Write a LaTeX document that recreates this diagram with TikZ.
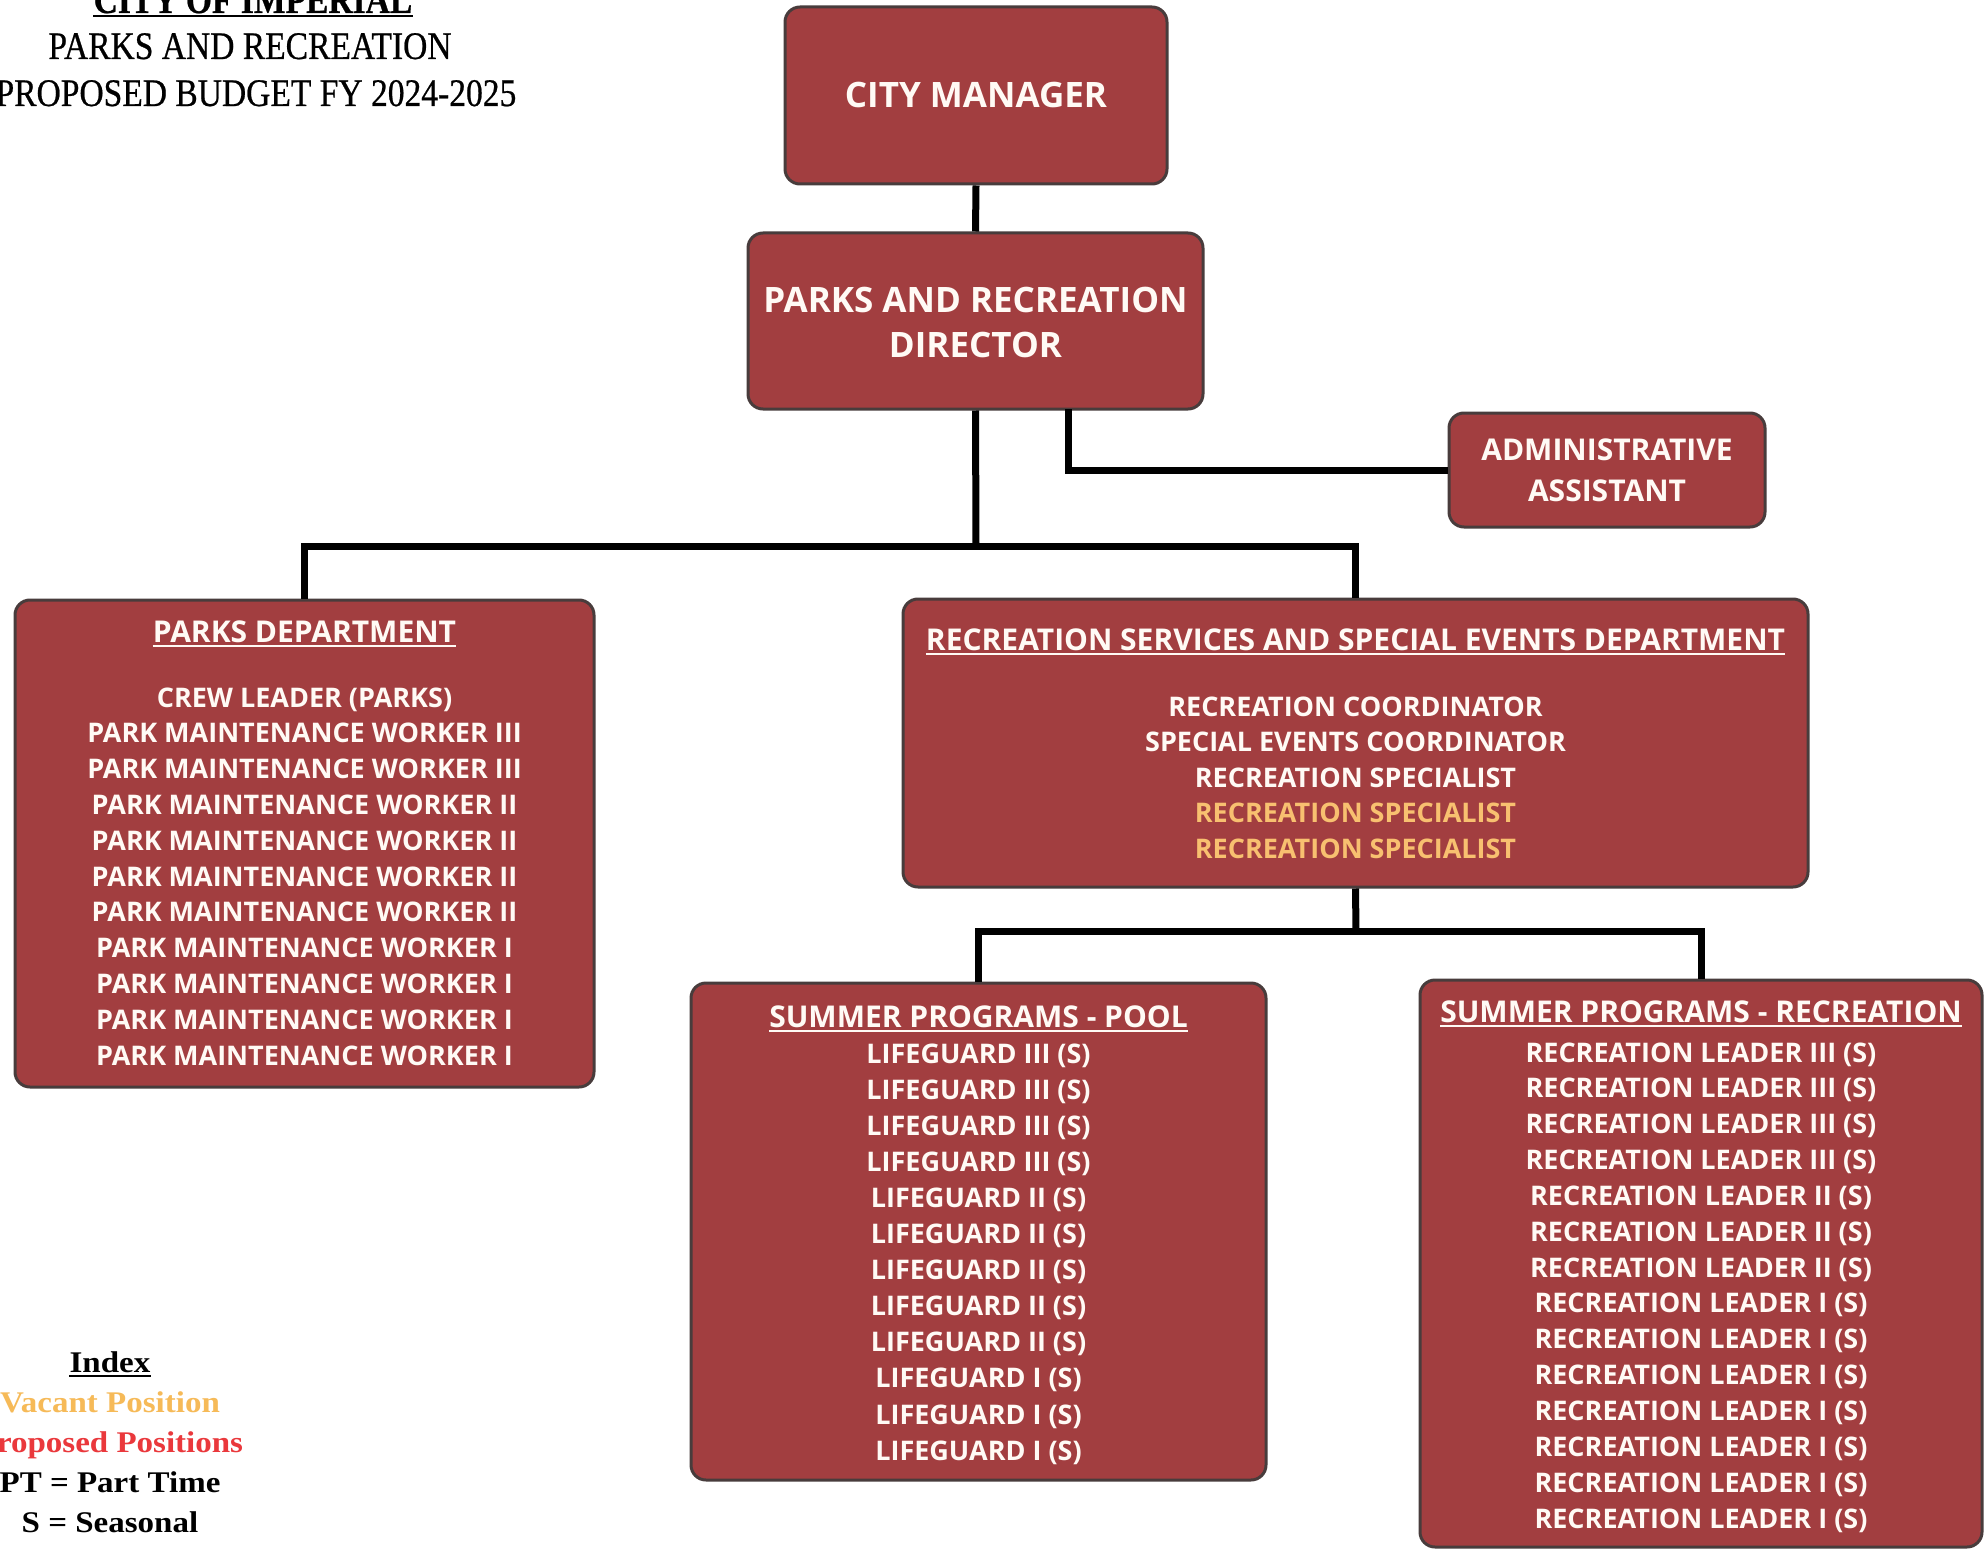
\documentclass[tikz,border=0pt]{standalone}
\usepackage{fontspec}
\setmainfont{Liberation Serif}
\newfontfamily\boxfont{Open Sans}
\newfontfamily\titlefont[FakeStretch=0.86,FakeBold=0.6]{Liberation Serif}
\newfontfamily\legendfont[FakeStretch=1.1]{Liberation Serif}

\definecolor{boxred}{RGB}{162,62,64}
\definecolor{boxline}{RGB}{72,60,60}
\definecolor{boxtext}{RGB}{255,250,245}
\definecolor{vacantbox}{RGB}{248,192,112}
\definecolor{vacantlgd}{RGB}{246,186,88}
\definecolor{proposed}{RGB}{234,56,60}

\begin{document}
\begin{tikzpicture}[x=1pt,y=-1pt,
  box/.style={draw=boxline, line width=3pt, fill=boxred, rounded corners=15pt, inner sep=0pt},
  conn/.style={line width=7pt, draw=black, line join=miter},
  txt/.style={text=boxtext, inner sep=0pt, anchor=base, font=\boxfont\bfseries\fontsize{27}{27}\selectfont},
  hdr/.style={txt, font=\boxfont\bfseries\fontsize{30}{30}\selectfont},
  big/.style={txt, font=\boxfont\bfseries\fontsize{35}{35}\selectfont},
  mid/.style={txt, font=\boxfont\bfseries\fontsize{30}{30}\selectfont},
  ttl/.style={inner sep=0pt, anchor=base, font=\titlefont\fontsize{39}{39}\selectfont},
  lgd/.style={inner sep=0pt, anchor=base, font=\legendfont\bfseries\fontsize{30}{30}\selectfont},
  uline/.style={line width=2pt}
]
\fill[white] (0,0) rectangle (1984,1549);
\useasboundingbox (0,0) rectangle (1984,1549);

% ---------- title ----------
\node[ttl, font=\titlefont\bfseries\fontsize{39}{39}\selectfont] (t1) at (253,13) {CITY OF IMPERIAL};
\draw[line width=2.5pt] ([yshift=-3pt]t1.base west) -- ([yshift=-3pt]t1.base east);
\node[ttl] (t2) at (250,59) {PARKS AND RECREATION};
\node[ttl] (t3) at (256,106) {PROPOSED BUDGET FY 2024-2025};

% ---------- boxes ----------
\node[box, minimum width=382pt, minimum height=177pt] (cm)   at (976,95.5) {};
\node[box, minimum width=455pt, minimum height=176pt] (dir)  at (975.5,321) {};
\node[box, minimum width=316pt, minimum height=114pt] (adm)  at (1607,470) {};
\node[box, minimum width=579pt, minimum height=487pt] (pk)   at (304.5,843.5) {};
\node[box, minimum width=905pt, minimum height=288pt] (rec)  at (1355.5,743) {};
\node[box, minimum width=575pt, minimum height=497pt] (pool) at (978.5,1231.5) {};
\node[box, minimum width=562pt, minimum height=567pt] (srec) at (1701,1263.5) {};

% ---------- connectors ----------
\coordinate (hub1) at (976,546);
\coordinate (dA) at (1068,409);
\coordinate (hub2) at (1356,931);
\draw[conn] (cm.south) -- (dir.north);
\draw[conn] (dir.south) -- (hub1);
\draw[conn] (pk.north) |- (hub1) -| (rec.north);
\draw[conn] (dA) |- (adm.west);
\draw[conn] (rec.south) -- (hub2);
\draw[conn] (pool.north) |- (hub2) -| (srec.north);

% ---------- box texts ----------
\node[big] (cmt) at (976,108) {CITY MANAGER};
\node[big] (dir1) at (975.5,312) {PARKS AND RECREATION};
\node[big] (dir2) at (975.5,357) {DIRECTOR};
\node[mid] (adm1) at (1607,460) {ADMINISTRATIVE};
\node[mid] (adm2) at (1607,501) {ASSISTANT};

% parks department
\node[hdr] (pkh) at (304.5,642) {PARKS DEPARTMENT};
\draw[boxtext, uline] ([yshift=-4pt]pkh.base west) -- ([yshift=-4pt]pkh.base east);
\foreach \t [count=\i from 0] in {{CREW LEADER (PARKS)},{PARK MAINTENANCE WORKER III},{PARK MAINTENANCE WORKER III},
  {PARK MAINTENANCE WORKER II},{PARK MAINTENANCE WORKER II},{PARK MAINTENANCE WORKER II},{PARK MAINTENANCE WORKER II},
  {PARK MAINTENANCE WORKER I},{PARK MAINTENANCE WORKER I},{PARK MAINTENANCE WORKER I},{PARK MAINTENANCE WORKER I}}
  \node[txt] (pk\i) at (304.5,{707+35.8*\i}) {\t};

% recreation services
\node[hdr] (rech) at (1355.5,650) {RECREATION SERVICES AND SPECIAL EVENTS DEPARTMENT};
\draw[boxtext, uline] ([yshift=-4pt]rech.base west) -- ([yshift=-4pt]rech.base east);
\node[txt] (rc0) at (1355.5,716) {RECREATION COORDINATOR};
\node[txt] (rc1) at (1355.5,751.5) {SPECIAL EVENTS COORDINATOR};
\node[txt] (rc2) at (1355.5,787) {RECREATION SPECIALIST};
\node[txt, text=vacantbox] (rc3) at (1355.5,822.5) {RECREATION SPECIALIST};
\node[txt, text=vacantbox] (rc4) at (1355.5,858) {RECREATION SPECIALIST};

% pool programs
\node[hdr] (poolh) at (978.5,1027) {SUMMER PROGRAMS - POOL};
\draw[boxtext, uline] ([yshift=-4pt]poolh.base west) -- ([yshift=-4pt]poolh.base east);
\foreach \t [count=\i from 0] in {{LIFEGUARD III (S)},{LIFEGUARD III (S)},{LIFEGUARD III (S)},{LIFEGUARD III (S)},
  {LIFEGUARD II (S)},{LIFEGUARD II (S)},{LIFEGUARD II (S)},{LIFEGUARD II (S)},{LIFEGUARD II (S)},
  {LIFEGUARD I (S)},{LIFEGUARD I (S)},{LIFEGUARD I (S)}}
  \node[txt] (pl\i) at (978.5,{1063+36.1*\i}) {\t};

% recreation programs
\node[hdr] (srech) at (1701,1022) {SUMMER PROGRAMS - RECREATION};
\draw[boxtext, uline] ([yshift=-4pt]srech.base west) -- ([yshift=-4pt]srech.base east);
\foreach \t [count=\i from 0] in {{RECREATION LEADER III (S)},{RECREATION LEADER III (S)},{RECREATION LEADER III (S)},{RECREATION LEADER III (S)},
  {RECREATION LEADER II (S)},{RECREATION LEADER II (S)},{RECREATION LEADER II (S)},
  {RECREATION LEADER I (S)},{RECREATION LEADER I (S)},{RECREATION LEADER I (S)},{RECREATION LEADER I (S)},
  {RECREATION LEADER I (S)},{RECREATION LEADER I (S)},{RECREATION LEADER I (S)}}
  \node[txt] (sr\i) at (1701,{1062+35.85*\i}) {\t};

% ---------- index ----------
\node[lgd] (ix) at (110,1372) {Index};
\draw[line width=2pt] ([yshift=-4pt]ix.base west) -- ([yshift=-4pt]ix.base east);
\node[lgd, text=vacantlgd] (ixv) at (110,1412) {Vacant Position};
\node[lgd, text=proposed] (ixp) at (110,1452) {Proposed Positions};
\node[lgd] (ixpt) at (110,1492) {PT = Part Time};
\node[lgd] (ixs) at (110,1532) {S = Seasonal};
\end{tikzpicture}
\end{document}
